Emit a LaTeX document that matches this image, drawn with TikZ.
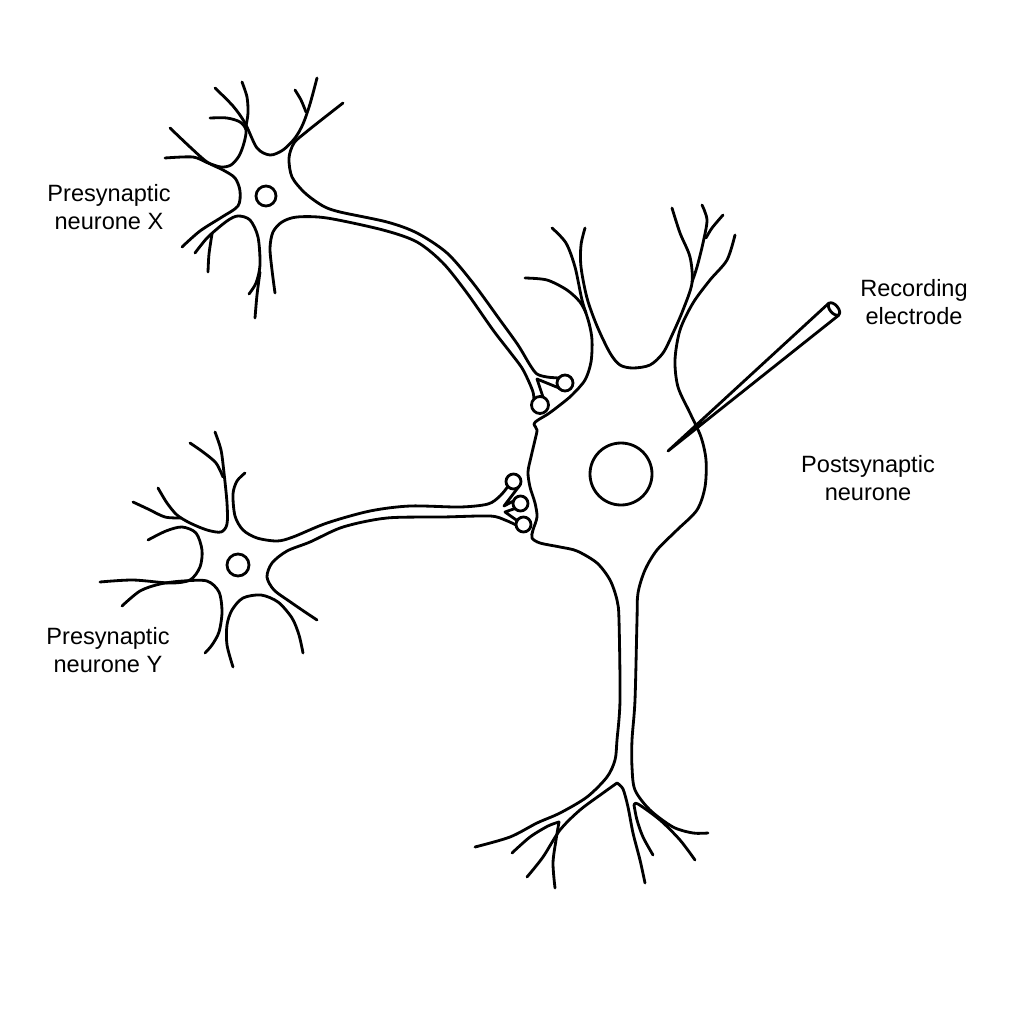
\documentclass[tikz,border=0pt]{standalone}
\usepackage{fontspec}
\setmainfont{Liberation Sans}
\tikzset{
  cell/.style={line width=0.8pt, line cap=round, line join=round},
  lbl/.style={align=center, inner sep=0pt, font=\fontsize{6.7}{8.1}\selectfont},
}
\begin{document}
\begin{tikzpicture}[x=0.01cm, y=-0.01cm]
  \useasboundingbox (0,0) rectangle (1024,1024);

  \draw[cell] plot[smooth] coordinates {(215,88) (233,106) (245,123) (257,148) (270,155) (283,150) (295,138) (303,124) (310,104) (317,78)};
  \draw[cell] plot[smooth] coordinates {(242,82) (247,97) (248,113) (246,126)};
  \draw[cell] plot[smooth] coordinates {(295,90) (301,100) (306,112)};
  \draw[cell] plot[smooth] coordinates {(210,118) (227,118) (240,122) (246,130) (244,143) (239,156) (231,165) (221,167) (208,163) (193,157) (165,158)};
  \draw[cell] plot[smooth] coordinates {(170,128) (190,147) (207,162) (223,170) (235,178) (240,191) (238,206) (222,217) (200,231) (182,247)};
  \draw[cell] plot[smooth] coordinates {(195,253) (208,237) (227,221) (238,216) (250,220) (258,237) (260,265) (256,283) (249,294)};
  \draw[cell] plot[smooth] coordinates {(208,272) (209,254) (212,234)};
  \draw[cell] plot[smooth] coordinates {(255,318) (257,295) (260,272)};
  \draw[cell] plot[smooth] coordinates {(275,293) (272,270) (270,248) (273,232) (282,222) (297,217) (327,218) (383,230) (417,242) (443,263) (467,293) (493,330) (510,352) (522,368) (529,382) (533,392) (534,399)};
  \draw[cell] plot[smooth] coordinates {(343,103) (320,121) (305,133) (294,143) (289,158) (292,177) (305,193) (323,206) (340,212) (387,222) (417,233) (447,253) (473,283) (500,320) (518,345) (530,365) (537,374) (547,377) (559,378)};
  \draw[cell] (559,388) -- (537,379) -- (543,397);
  \draw[cell] (565,383) circle[radius=8];
  \draw[cell] (540,405) circle[radius=8.5];
  \draw[cell] (266,196) circle[radius=10];

  \draw[cell] plot[smooth] coordinates {(215,432) (221,450) (224,473) (227,503) (227,524) (221,532) (207,530) (190,523) (177,515) (167,503) (158,488)};
  \draw[cell] plot[smooth] coordinates {(190,443) (203,452) (216,463) (223,477)};
  \draw[cell] plot[smooth] coordinates {(133,502) (148,509) (165,517) (181,518)};
  \draw[cell] plot[smooth] coordinates {(148,540) (166,531) (182,527) (196,533) (202,550) (200,567) (190,580) (170,583) (133,580) (100,582)};
  \draw[cell] plot[smooth] coordinates {(122,606) (140,591) (160,584) (183,581) (207,581) (219,592) (222,612) (219,632) (212,645) (205,653)};
  \draw[cell] plot[smooth] coordinates {(233,667) (227,645) (227,625) (232,610) (243,598) (261,595) (278,602) (292,618) (299,635) (303,653)};
  \draw[cell] plot[smooth] coordinates {(317,620) (305,612) (289,601) (274,590) (267,577) (272,563) (287,551) (310,542) (343,527) (387,518) (443,517) (490,516) (505,520) (516,525)};
  \draw[cell] plot[smooth] coordinates {(245,473) (237,481) (233,494) (235,516) (243,530) (257,538) (277,541) (293,537) (327,523) (370,511) (410,506) (460,507) (488,504) (500,496) (507.5,487)};
  \draw[cell] (518.5,487) -- (504,506) -- (513.5,501);
  \draw[cell] (515,508.5) -- (505,512) -- (517,520.5);
  \draw[cell] (513.5,481.5) circle[radius=7.5];
  \draw[cell] (520.5,503.5) circle[radius=7.5];
  \draw[cell] (523.5,524.5) circle[radius=7.5];
  \draw[cell] (238,565) circle[radius=11];

  \draw[cell] plot[smooth] coordinates {(552,228) (566,243) (575,267) (582,300) (589,323) (592,340) (591,362) (585,380) (572,395) (560,405) (548,414) (538,420) (534,424) (537,430) (535,440) (531,457) (528,472) (530,487) (535,503) (537,517) (533,530) (532,538) (540,543) (560,547) (577,551) (597,563) (610,580) (617,600) (619,620) (620,700) (617,740) (615,760) (607,777) (587,797) (560,813) (537,823) (510,837) (475,847)};
  \draw[cell] plot[smooth] coordinates {(525,278) (547,280) (567,290) (580,302) (586,313)};
  \draw[cell] plot[smooth] coordinates {(585,228) (581,245) (581,267) (587,298) (597,326) (610,353) (620,365) (633,368) (650,365) (663,353) (673,333) (683,310) (692,283) (690,257) (680,233) (672,208)};
  \draw[cell] plot[smooth] coordinates {(702,205) (707,220) (703,243) (697,267) (692,282)};
  \draw[cell] plot[smooth] coordinates {(723,215) (712,228) (706,238)};
  \draw[cell] plot[smooth] coordinates {(735,235) (727,260) (710,280) (693,303) (680,330) (675,360) (678,387) (690,413) (701,437) (706,460) (705,487) (697,510) (677,530) (657,550) (645,570) (638,593) (637,620) (635,700) (632,740) (632,767) (635,790) (650,810) (673,827) (693,833) (708,833)};
  \draw[cell] plot[smooth] coordinates {(527,877) (543,857) (560,830) (580,810) (603,793) (617,783)};
  \draw[cell] plot[smooth] coordinates {(617,783) (623,789) (628,807) (633,833) (640,860) (645,883)};
  \draw[cell] plot[smooth] coordinates {(512,853) (530,837) (548,826) (559,822)};
  \draw[cell] plot[smooth] coordinates {(559,822) (556,840) (553,863) (555,888)};
  \draw[cell] plot[smooth] coordinates {(653,855) (643,837) (637,820) (634,805)};
  \draw[cell] plot[smooth] coordinates {(634,805) (638,804) (660,820) (680,840) (695,860)};
  \draw[cell] (621,474) circle[radius=31];

  \coordinate (tip) at (668,451);
  \coordinate (top) at (834,309);
  \draw[cell] (829,303) -- (tip) -- (839,315);
  \draw[cell, rotate around={40.5:(top)}] (top) ellipse[x radius=4, y radius=7.5];

  \node[lbl] (labX) at (109,207) {Presynaptic\\neurone X};
  \node[lbl] (labY) at (108,650) {Presynaptic\\neurone Y};
  \node[lbl] (labRec) at (914,302) {Recording\\electrode};
  \node[lbl] (labPost) at (868,478) {Postsynaptic\\neurone};
\end{tikzpicture}
\end{document}
